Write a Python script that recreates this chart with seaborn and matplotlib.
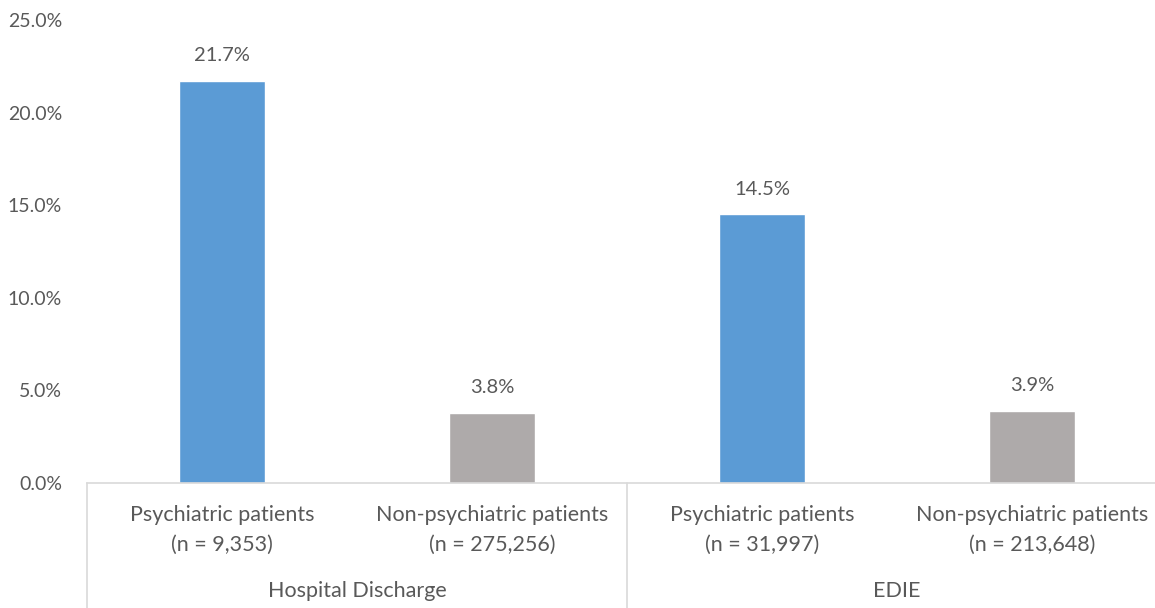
import matplotlib
matplotlib.use("Agg")
import matplotlib.pyplot as plt
import matplotlib.transforms as mtransforms
import seaborn as sns
import pandas as pd

groups = ["Hospital Discharge", "Hospital Discharge", "EDIE", "EDIE"]
categories = ["Psychiatric patients\n(n = 9,353)", "Non-psychiatric patients\n(n = 275,256)",
              "Psychiatric patients\n(n = 31,997)", "Non-psychiatric patients\n(n = 213,648)"]
values = [21.7, 3.8, 14.5, 3.9]
bar_colors = ["#5B9BD5", "#AEAAAA", "#5B9BD5", "#AEAAAA"]
yticks = [0, 5, 10, 15, 20, 25]
group_names = ["Hospital Discharge", "EDIE"]

sns.set_theme(style="white")
plt.rcParams['font.family'] = ['Lato', 'DejaVu Sans']
text_color = "#595959"
line_color = "#D9D9D9"
FS = 14
FS_CAT = 15.5

W, H = 1155, 608
fig = plt.figure(figsize=(W / 100, H / 100), dpi=100)
ax = fig.add_axes([87 / W, (H - 483) / H, (1167 - 87) / W, (483 - 20) / H])

df = pd.DataFrame({"cat": categories, "val": values, "group": groups})
sns.barplot(data=df, x="cat", y="val", hue="cat", palette=bar_colors, order=categories,
            hue_order=categories, width=0.315, legend=False, ax=ax, saturation=1)

ax.set_xlim(-0.5, 3.5)
ax.set_ylim(0, 25)
ax.set_yticks(yticks)
ax.set_yticklabels([f"{t:.1f}%" for t in yticks], color=text_color, fontsize=FS)
ax.tick_params(axis="y", length=0, pad=18)
ax.tick_params(axis="x", length=0, pad=16)
ax.set_xticks(range(len(categories)))
ax.set_xticklabels(categories, color=text_color, fontsize=FS_CAT, linespacing=1.6)
ax.set_xlabel("")
ax.set_ylabel("")
for s in ["top", "right", "left"]:
    ax.spines[s].set_visible(False)
ax.spines["bottom"].set_color(line_color)
ax.spines["bottom"].set_linewidth(1.2)

for i, v in enumerate(values):
    ax.annotate(f"{v:.1f}%", (i, v), xytext=(0, 12), textcoords="offset points",
                ha="center", va="bottom", color=text_color, fontsize=FS + 0.5)

# multi-level axis separators
trans = mtransforms.blended_transform_factory(ax.transData, fig.transFigure)
for xpos in [-0.5, 1.5, 3.5]:
    ax.plot([xpos, xpos], [0, (H - 483) / H], transform=trans, color=line_color,
            lw=1.2, clip_on=False)

# group labels
for gx, name in zip([0.5, 2.5], group_names):
    ax.text(gx, (H - 591) / H, name, transform=trans, ha="center", va="center",
            color=text_color, fontsize=FS_CAT)

fig.savefig("out.png", dpi=100)
